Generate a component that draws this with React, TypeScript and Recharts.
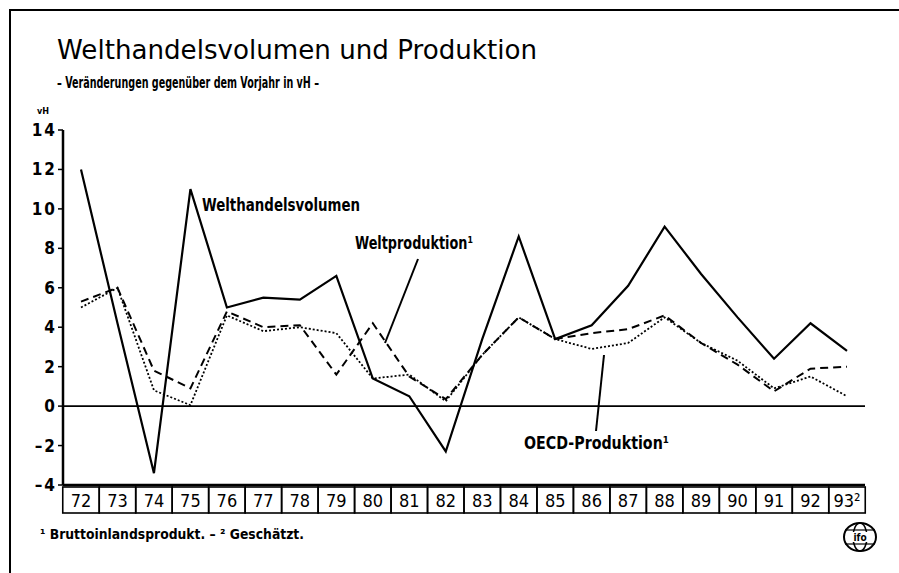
import React from 'react';
import { LineChart, Line, XAxis, YAxis, ReferenceLine } from 'recharts';

// Jahre 1972 bis 1993 (93 geschätzt)
const years = ['72', '73', '74', '75', '76', '77', '78', '79', '80', '81', '82', '83', '84', '85', '86', '87', '88', '89', '90', '91', '92', '93²'];

// Veränderungen gegenüber dem Vorjahr in vH
const welthandelsvolumen = [12.0, 4.2, -3.4, 11.0, 5.0, 5.5, 5.4, 6.6, 1.4, 0.5, -2.3, 3.4, 8.6, 3.4, 4.1, 6.1, 9.1, 6.7, 4.5, 2.4, 4.2, 2.8];
const weltproduktion = [5.3, 6.0, 1.8, 0.9, 4.8, 4.0, 4.1, 1.6, 4.2, 1.5, 0.35, 2.6, 4.5, 3.4, 3.7, 3.9, 4.6, 3.2, 2.1, 0.75, 1.9, 2.0];
const oecdProduktion = [5.0, 6.0, 0.8, 0.05, 4.6, 3.8, 4.0, 3.7, 1.4, 1.6, 0.25, 2.6, 4.5, 3.4, 2.9, 3.2, 4.5, 3.2, 2.3, 0.9, 1.5, 0.5];

const yTicks = [-4, -2, 0, 2, 4, 6, 8, 10, 12, 14];

const data = years.map((year, i) => ({
  year,
  handel: welthandelsvolumen[i],
  welt: weltproduktion[i],
  oecd: oecdProduktion[i],
}));

const COND = '"DejaVu Sans Condensed", "DejaVu Sans", sans-serif';
const BAND = 36.5;

const YearTick = (props: any) => {
  const { x, y, payload } = props;
  return (
    <g>
      <rect x={x - BAND / 2} y={y + 2} width={BAND} height={26} fill="none" stroke="#000" strokeWidth={1.6} />
      <text x={x} y={y + 22} textAnchor="middle" fontFamily={COND} fontSize={18} fill="#000">
        {payload.value}
      </text>
    </g>
  );
};

const ValueTick = (props: any) => {
  const { x, y, payload } = props;
  const v = payload.value < 0 ? '–' + Math.abs(payload.value) : String(payload.value);
  return (
    <text x={x} y={y + 6} textAnchor="end" fontFamily={COND} fontWeight="bold" fontSize={17} letterSpacing={2} fill="#000">
      {v}
    </text>
  );
};

const App: React.FC = () => {
  return (
    <div style={{ position: 'fixed', left: 0, top: 0, width: 899, height: 573, background: '#fff' }}>
      <LineChart width={899} height={573} data={data} margin={{ top: 130, right: 34, bottom: 60, left: 0 }}>
        <XAxis
          dataKey="year"
          height={28}
          interval={0}
          padding={{ left: 18, right: 18 }}
          tickSize={0}
          tickMargin={0}
          tick={<YearTick />}
          axisLine={{ stroke: '#000', strokeWidth: 2.5 }}
        />
        <XAxis xAxisId="top" dataKey="year" orientation="top" height={0} tick={false} tickLine={false} axisLine={{ stroke: '#000', strokeWidth: 2 }} />
        <YAxis
          width={63}
          domain={[-4, 14]}
          ticks={yTicks}
          interval={0}
          tickSize={5}
          tickMargin={1}
          tickLine={{ stroke: '#000', strokeWidth: 1.5 }}
          axisLine={{ stroke: '#000', strokeWidth: 2.5 }}
          tick={<ValueTick />}
        />
        <YAxis yAxisId="r" orientation="right" width={0} domain={[-4, 14]} tick={false} tickLine={false} axisLine={{ stroke: '#000', strokeWidth: 2.5 }} />
        <ReferenceLine y={0} stroke="#000" strokeWidth={1.8} />
        <Line dataKey="handel" type="linear" stroke="#000" strokeWidth={2.2} dot={false} isAnimationActive={false} />
        <Line dataKey="welt" type="linear" stroke="#000" strokeWidth={2} strokeDasharray="8 5" dot={false} isAnimationActive={false} />
        <Line dataKey="oecd" type="linear" stroke="#000" strokeWidth={1.8} strokeDasharray="2 2" dot={false} isAnimationActive={false} />
      </LineChart>

      <svg width={899} height={573} style={{ position: 'absolute', left: 0, top: 0, pointerEvents: 'none' }}>
        {/* Rahmen */}
        <path d="M10 573 L10 10 L899 10" fill="none" stroke="#000" strokeWidth={2} />

        <text x={57} y={59} fontFamily='"DejaVu Sans", sans-serif' fontSize={26} textLength={480} lengthAdjust="spacingAndGlyphs" fill="#000">
          Welthandelsvolumen und Produktion
        </text>
        <text x={57} y={88} fontFamily={COND} fontWeight="bold" fontSize={16} textLength={262} lengthAdjust="spacingAndGlyphs" fill="#000">
          – Veränderungen gegenüber dem Vorjahr in vH –
        </text>
        <text x={37} y={114} fontFamily={COND} fontWeight="bold" fontSize={9} fill="#000">vH</text>

        <text x={202} y={211} fontFamily={COND} fontWeight="bold" fontSize={17} textLength={158} lengthAdjust="spacingAndGlyphs" fill="#000">
          Welthandelsvolumen
        </text>
        <text x={355} y={249} fontFamily={COND} fontWeight="bold" fontSize={17} textLength={118} lengthAdjust="spacingAndGlyphs" fill="#000">
          Weltproduktion¹
        </text>
        <line x1={418} y1={259} x2={385} y2={343} stroke="#000" strokeWidth={2} />

        <text x={524} y={449} fontFamily={COND} fontWeight="bold" fontSize={17} textLength={145} lengthAdjust="spacingAndGlyphs" fill="#000">
          OECD-Produktion¹
        </text>
        <line x1={604} y1={355} x2={596} y2={431} stroke="#000" strokeWidth={2} />

        <text x={40} y={539} fontFamily={COND} fontWeight="bold" fontSize={14} textLength={264} lengthAdjust="spacingAndGlyphs" fill="#000">
          ¹ Bruttoinlandsprodukt. – ² Geschätzt.
        </text>

        {/* Logo */}
        <g stroke="#000" fill="none" strokeWidth={2}>
          <ellipse cx={860} cy={537} rx={16} ry={14} />
          <ellipse cx={860} cy={537} rx={7} ry={14} strokeWidth={1.5} />
          <line x1={845} y1={530} x2={875} y2={530} strokeWidth={1.2} />
          <line x1={845} y1={544} x2={875} y2={544} strokeWidth={1.2} />
        </g>
        <rect x={849} y={532} width={22} height={10} fill="#fff" />
        <text x={860} y={541} textAnchor="middle" fontFamily={COND} fontWeight="bold" fontSize={10} fill="#000">ifo</text>
      </svg>
    </div>
  );
};

export default App;
